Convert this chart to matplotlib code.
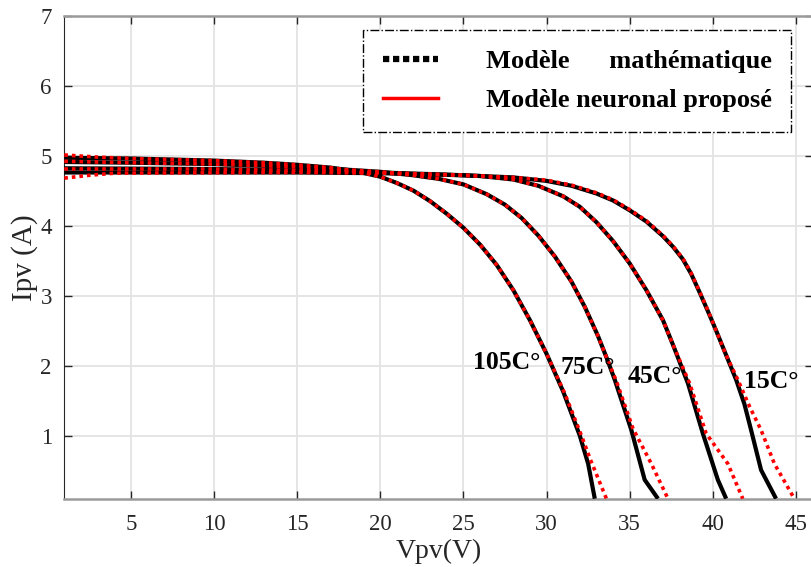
import matplotlib
matplotlib.use('Agg')
import matplotlib.pyplot as plt
from matplotlib.lines import Line2D

plt.rcParams['font.family'] = ['Liberation Serif', 'DejaVu Serif']

# Courbes I-V : modèle mathématique (noir)
v_105 = [1, 5, 10, 13, 15, 17, 18.5, 20, 21, 22, 23, 24, 25, 26, 27, 28, 29, 30, 31, 32, 32.5, 32.9]
i_105 = [4.97, 4.96, 4.93, 4.90, 4.87, 4.83, 4.78, 4.70, 4.61, 4.50, 4.35, 4.17, 3.97, 3.73,
         3.44, 3.08, 2.65, 2.17, 1.63, 1.0, 0.6, 0.1]
v_75 = [1, 5, 10, 15, 18, 20, 22, 23.5, 25, 26.4, 27.5, 28.5, 29.5, 30.5, 31.5, 32.3, 33.1,
        33.6, 34.1, 35.1, 35.9, 36.7]
i_75 = [4.91, 4.90, 4.88, 4.84, 4.80, 4.77, 4.72, 4.67, 4.59, 4.45, 4.30, 4.11, 3.86, 3.56,
        3.2, 2.84, 2.42, 2.12, 1.8, 1.08, 0.37, 0.1]
v_45 = [1, 10, 15, 20, 24, 26, 28, 29.5, 31, 32, 33, 34, 35, 36, 37, 37.6, 38.5, 39.4, 40.3, 40.8]
i_45 = [4.82, 4.81, 4.79, 4.76, 4.73, 4.71, 4.66, 4.57, 4.42, 4.27, 4.05, 3.78, 3.46, 3.08,
        2.65, 2.3, 1.75, 1.03, 0.37, 0.1]
v_15 = [1, 15, 20, 25, 28, 30, 31.5, 33, 34, 35, 36, 37, 37.6, 38.2, 38.7, 39.2, 39.7, 40.2,
        40.8, 41.4, 41.9, 42.3, 42.9, 43.8]
i_15 = [4.76, 4.76, 4.75, 4.72, 4.69, 4.64, 4.57, 4.46, 4.36, 4.22, 4.06, 3.85, 3.7, 3.52,
        3.31, 3.05, 2.78, 2.5, 2.15, 1.8, 1.45, 1.08, 0.51, 0.1]

# Modèle neuronal proposé (rouge pointillé)
vn_105 = [1, 3, 5, 10, 13, 15, 17, 18.5, 20, 21, 22, 23, 24, 25, 26, 27, 28, 29, 30, 31.1,
          32.1, 32.6, 33.6]
in_105 = [5.01, 4.98, 4.96, 4.93, 4.90, 4.87, 4.83, 4.78, 4.70, 4.61, 4.50, 4.35, 4.17, 3.97,
          3.73, 3.44, 3.08, 2.65, 2.17, 1.6, 1.0, 0.68, 0.1]
vn_75 = [1, 5, 10, 15, 18, 20, 22, 23.5, 25, 26.4, 27.5, 28.5, 29.5, 30.5, 31.5, 32.3, 33.1,
         33.6, 34.2, 35.2, 36.3, 37.3]
in_75 = [4.92, 4.90, 4.88, 4.84, 4.80, 4.77, 4.72, 4.67, 4.59, 4.45, 4.30, 4.11, 3.86, 3.56,
         3.2, 2.84, 2.42, 2.12, 1.78, 1.1, 0.6, 0.1]
vn_45 = [1, 10, 15, 20, 24, 26, 28, 29.5, 31, 32, 33, 34, 35, 36, 37, 37.6, 38.6, 39.6, 40.9, 41.8]
in_45 = [4.81, 4.81, 4.79, 4.76, 4.73, 4.71, 4.66, 4.57, 4.42, 4.27, 4.05, 3.78, 3.46, 3.08,
         2.65, 2.3, 1.75, 1.03, 0.6, 0.1]
vn_15 = [1, 2.5, 4, 15, 20, 25, 28, 30, 31.5, 33, 34, 35, 36, 37, 37.6, 38.2, 38.7, 39.2,
         39.7, 40.2, 40.8, 41.5, 42.2, 42.9, 43.7, 44.9]
in_15 = [4.68, 4.72, 4.75, 4.76, 4.75, 4.72, 4.69, 4.65, 4.58, 4.47, 4.37, 4.23, 4.07, 3.86,
         3.71, 3.53, 3.32, 3.06, 2.79, 2.5, 2.15, 1.8, 1.42, 1.08, 0.6, 0.1]

temp_labels = ['105C°', '75C°', '45C°', '15C°']
label_pos = [(27.6, 2.05), (32.5, 1.97), (36.5, 1.85), (43.5, 1.78)]

xticks = [5, 10, 15, 20, 25, 30, 35, 40, 45]
yticks = [1, 2, 3, 4, 5, 6, 7]

fig = plt.figure(figsize=(8.11, 5.67), dpi=100)
ax = fig.add_axes([0.0793, 0.1205, 0.9227, 0.8518])

for v, i in [(v_105, i_105), (v_75, i_75), (v_45, i_45), (v_15, i_15)]:
    ax.plot(v, i, color='black', lw=3.0, solid_capstyle='butt', solid_joinstyle='round', zorder=3)
for v, i in [(vn_105, in_105), (vn_75, in_75), (vn_45, in_45), (vn_15, in_15)]:
    ax.plot(v, i, color='red', lw=2.6, dashes=(1, 1.1), dash_capstyle='butt', zorder=4)

for txt, (x, y) in zip(temp_labels, label_pos):
    ax.text(x, y, txt, fontsize=18.5, fontweight='bold', ha='center', va='center', zorder=5)

ax.set_xlim(1, 46)
ax.set_ylim(0.1, 7)
ax.set_xticks(xticks)
ax.set_yticks(yticks)
ax.grid(True, color='#e3e3e3', lw=1.3)
ax.set_axisbelow(True)
ax.tick_params(direction='in', length=6, width=1, top=True, right=True,
               labelsize=16.5, colors='#262626')
ax.tick_params(axis='x', pad=11)
ax.tick_params(axis='y', pad=9)
for s in ['left', 'right']:
    ax.spines[s].set_color('#262626')
for s in ['top', 'bottom']:
    ax.spines[s].set_color('#9a9a9a')
    ax.spines[s].set_linewidth(1.8)

ax.set_xlabel('Vpv(V)', fontsize=20, color='#262626', labelpad=3)
ax.set_ylabel('Ipv (A)', fontsize=21, color='#262626')
ax.yaxis.set_label_coords(-0.035, 0.5)

handles = [Line2D([], [], color='black', lw=4.5, dashes=(1, 0.6), dash_capstyle='butt'),
           Line2D([], [], color='red', lw=2.5)]
labels = ['Modèle      mathématique', 'Modèle neuronal proposé']
leg = ax.legend(handles, labels, loc='upper left', bbox_to_anchor=(0.399, 0.971),
                prop={'size': 19, 'weight': 'bold'}, handlelength=2.1, handletextpad=1.8,
                labelspacing=0.6, borderpad=0.75, borderaxespad=0, fancybox=False,
                framealpha=1, edgecolor='black')
leg.get_frame().set_linestyle('-.')
leg.get_frame().set_linewidth(1.0)

fig.savefig('out.png', dpi=100)
